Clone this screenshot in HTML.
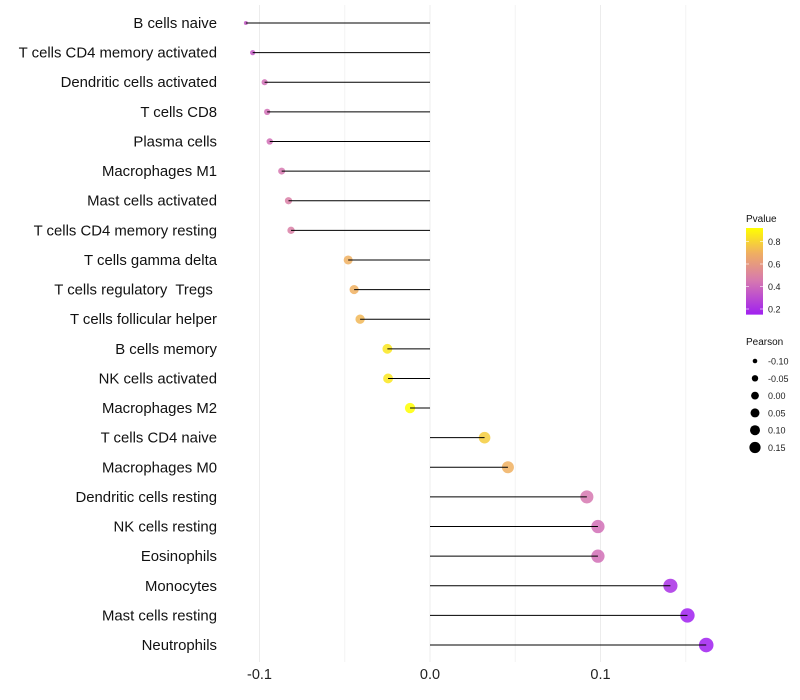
<!DOCTYPE html>
<html><head><meta charset="utf-8"><style>
body{margin:0;background:#fff;}
svg{font-family:"Liberation Sans",sans-serif;display:block;}
text{white-space:pre;}
</style></head><body>
<svg id="chart" width="800" height="700"></svg>
<script>
const categories=["B cells naive","T cells CD4 memory activated","Dendritic cells activated","T cells CD8","Plasma cells","Macrophages M1","Mast cells activated","T cells CD4 memory resting","T cells gamma delta","T cells regulatory  Tregs ","T cells follicular helper","B cells memory","NK cells activated","Macrophages M2","T cells CD4 naive","Macrophages M0","Dendritic cells resting","NK cells resting","Eosinophils","Monocytes","Mast cells resting","Neutrophils"];
const pearson=[-0.108,-0.104,-0.097,-0.0955,-0.094,-0.087,-0.083,-0.0815,-0.048,-0.0445,-0.041,-0.025,-0.0246,-0.0117,0.032,0.0457,0.092,0.0985,0.0985,0.141,0.151,0.162];
const pvalue=[0.35,0.35,0.42,0.42,0.42,0.45,0.48,0.48,0.7,0.7,0.72,0.85,0.85,0.95,0.78,0.7,0.45,0.42,0.42,0.2,0.15,0.12];
const xTicks=[-0.1,0,0.1];
const xTickLabels=["-0.1","0.0","0.1"];
const xMinor=[-0.05,0.05,0.15];
const pTicks=[0.2,0.4,0.6,0.8];
const sizeTicks=[-0.10,-0.05,0.00,0.05,0.10,0.15];
const sizeTickLabels=["-0.10","-0.05","0.00","0.05","0.10","0.15"];

const NS="http://www.w3.org/2000/svg";
const svg=document.getElementById('chart');
const x=v=>430+v*1705;
const y=i=>23+i*29.62;
const rad=v=>2+5.3*Math.sqrt(Math.max(0,(v+0.108)/0.27));
function lerp(a,b,t){return a.map((c,i)=>Math.round(c+(b[i]-c)*t));}
const stops=[[0.15,[160,32,240]],[0.45,[214,120,176]],[0.7,[240,176,96]],[0.92,[255,255,0]]];
function col(p){
  if(p<=stops[0][0])return 'rgb('+stops[0][1]+')';
  for(let k=0;k<stops.length-1;k++){const[a,ca]=stops[k],[b,cb]=stops[k+1];if(p<=b)return 'rgb('+lerp(ca,cb,(p-a)/(b-a))+')';}
  return 'rgb('+stops[3][1]+')';
}
function mk(tag,attrs,parent){const e=document.createElementNS(NS,tag);for(const k in attrs)e.setAttribute(k,attrs[k]);(parent||svg).appendChild(e);return e;}

const plot=mk('g',{});


xMinor.forEach(v=>{
  const l=mk('line',{x1:x(v),x2:x(v),y1:5,y2:662,stroke:'#f3f3f3','stroke-width':1},plot);
  
  
});
xTicks.forEach(v=>{
  const l=mk('line',{x1:x(v),x2:x(v),y1:5,y2:662,stroke:'#ececec','stroke-width':1},plot);
  
  
});
xTicks.forEach((v,i)=>{
  const t=mk('text',{x:x(v),y:679,'text-anchor':'middle','font-size':14.5,fill:'#222'},plot);
  t.textContent=xTickLabels[i];
  
  
});
categories.forEach((c,i)=>{
  const t=mk('text',{x:217,y:y(i)+5,'text-anchor':'end','font-size':14.9,fill:'#111'},plot);
  t.textContent=c;
  
  
  const d=mk('circle',{cx:x(pearson[i]),cy:y(i),r:rad(pearson[i]),fill:col(pvalue[i]),'fill-opacity':0.85},plot);
  
  
  const l=mk('line',{x1:x(0),x2:x(pearson[i]),y1:y(i),y2:y(i),stroke:'#000','stroke-width':1},plot);
  
  
});

const leg=mk('g',{});


const lt=mk('text',{x:746,y:222,'font-size':10,fill:'#111'},leg);lt.textContent='Pvalue';


const defs=mk('defs',{},leg);
const grad=mk('linearGradient',{id:'pg',x1:0,y1:1,x2:0,y2:0},defs);
stops.forEach(s=>mk('stop',{offset:(s[0]-0.15)/(0.92-0.15),'stop-color':'rgb('+s[1]+')'},grad));
const py=p=>309-(p-0.2)*112.5;
const bar=mk('rect',{x:746,y:py(0.92),width:17,height:py(0.15)-py(0.92),fill:'url(#pg)'},leg);


pTicks.forEach(p=>{
  mk('line',{x1:746,x2:749,y1:py(p),y2:py(p),stroke:'#fff','stroke-opacity':0.6},leg);
  mk('line',{x1:760,x2:763,y1:py(p),y2:py(p),stroke:'#fff','stroke-opacity':0.6},leg);
  const t=mk('text',{x:768,y:py(p)+3.5,'font-size':9,fill:'#222'},leg);t.textContent=p.toFixed(1);
  
  
});
const st=mk('text',{x:746,y:345,'font-size':10,fill:'#111'},leg);st.textContent='Pearson';


const legR=[2.3,3.2,3.9,4.5,5.0,5.6];
sizeTicks.forEach((v,i)=>{
  const cy=361+i*17.3;
  const c=mk('circle',{cx:755,cy:cy,r:legR[i],fill:'#000'},leg);
  
  
  const t=mk('text',{x:768,y:cy+3.5,'font-size':9,fill:'#222'},leg);t.textContent=sizeTickLabels[i];
  
  
});
</script>
</body></html>
